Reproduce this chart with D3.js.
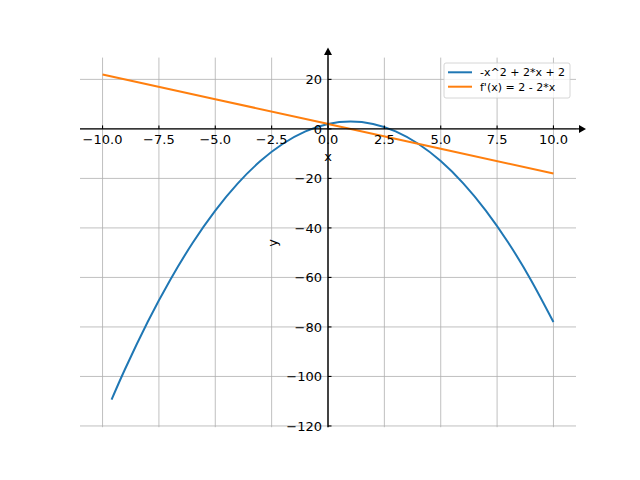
<!DOCTYPE html>
<html>
<head>
<meta charset="utf-8">
<script src="https://cdn.jsdelivr.net/npm/d3@7"></script>
<style>
  body { margin: 0; background: #fff; }
  text { font-family: "DejaVu Sans", sans-serif; }
</style>
</head>
<body>
<svg id="chart" width="640" height="480"></svg>
<script>
// values
const curveX = [-9.6, -9, -8, -7, -6, -5, -4, -3, -2, -1, 0, 1, 2, 3, 4, 5, 6, 7, 8, 9, 10];
const curveY = [-109.4, -97, -78, -61, -46, -33, -22, -13, -6, -1, 2, 3, 2, -1, -6, -13, -22, -33, -46, -61, -78];
const slopeX = [-10, -5, 0, 5, 10];
const slopeY = [22, 12, 2, -8, -18];
const xTicks = [-10, -7.5, -5, -2.5, 0, 2.5, 5, 7.5, 10];
const yTicks = [-120, -100, -80, -60, -40, -20, 0, 20];
const legendLabels = ['-x^2 + 2*x + 2', "f'(x) = 2 - 2*x"];
const colors = ['#1f77b4', '#ff7f0e'];

const svg = d3.select('#chart');
const boxLeft = 80, boxRight = 576, boxTop = 57.6, boxBottom = 427.2;

const x = d3.scaleLinear().domain([-11, 11]).range([boxLeft, boxRight]);
const y = d3.scaleLinear().domain([-120.5, 28.8]).range([boxBottom, boxTop]);
const x0 = x(0), y0 = y(0);
const minus = s => s.replace('-', '\u2212');

// grid
const grid = svg.append('g').attr('stroke', '#b0b0b0').attr('stroke-width', 0.8);
grid.selectAll('line.gx').data(xTicks).enter().append('line')
  .attr('x1', d => x(d)).attr('x2', d => x(d)).attr('y1', boxTop).attr('y2', boxBottom);
grid.selectAll('line.gy').data(yTicks).enter().append('line')
  .attr('x1', boxLeft).attr('x2', boxRight).attr('y1', d => y(d)).attr('y2', d => y(d));

// curves
const line = d3.line().x(d => x(d[0])).y(d => y(d[1])).curve(d3.curveNatural);
const series = [d3.zip(curveX, curveY), d3.zip(slopeX, slopeY)];
svg.selectAll('path.series').data(series).enter().append('path')
  .attr('class', 'series')
  .attr('d', line)
  .attr('fill', 'none')
  .attr('stroke', (d, i) => colors[i])
  .attr('stroke-width', 2);

// spines with arrow heads
const axes = svg.append('g');
axes.append('line').attr('x1', boxLeft).attr('x2', 579).attr('y1', y0).attr('y2', y0)
  .attr('stroke', '#000').attr('stroke-width', 1.4);
axes.append('line').attr('x1', x0).attr('x2', x0).attr('y1', boxBottom).attr('y2', 54)
  .attr('stroke', '#000').attr('stroke-width', 1.4);
axes.append('path').attr('d', `M${579},${y0 - 4}L${586},${y0}L${579},${y0 + 4}Z`).attr('fill', '#000');
axes.append('path').attr('d', `M${x0 - 4},${55}L${x0},${47.5}L${x0 + 4},${55}Z`).attr('fill', '#000');

// ticks
axes.selectAll('line.tx').data(xTicks).enter().append('line')
  .attr('x1', d => x(d)).attr('x2', d => x(d)).attr('y1', y0).attr('y2', y0 - 3.5)
  .attr('stroke', '#000').attr('stroke-width', 1.1);
axes.selectAll('line.ty').data(yTicks).enter().append('line')
  .attr('x1', x0).attr('x2', x0 + 3.5).attr('y1', d => y(d)).attr('y2', d => y(d))
  .attr('stroke', '#000').attr('stroke-width', 1.1);

// tick labels
axes.selectAll('text.lx').data(xTicks).enter().append('text')
  .attr('x', d => x(d)).attr('y', y0 + 15.5)
  .attr('text-anchor', 'middle').attr('font-size', 13).attr('fill', '#000')
  .text(d => minus(d3.format('.1f')(d)));
axes.selectAll('text.ly').data(yTicks).enter().append('text')
  .attr('x', x0 - 6).attr('y', d => y(d)).attr('dy', '0.36em')
  .attr('text-anchor', 'end').attr('font-size', 13).attr('fill', '#000')
  .text(d => minus(String(d)));

// axis labels
svg.append('text').attr('x', x0).attr('y', 161).attr('text-anchor', 'middle')
  .attr('font-size', 13).text('x');
svg.append('text').attr('transform', `translate(277,243) rotate(-90)`)
  .attr('text-anchor', 'middle').attr('font-size', 13).text('y');

// legend
const legend = svg.append('g');
legend.append('rect').attr('x', 444).attr('y', 63).attr('width', 126).attr('height', 35)
  .attr('rx', 2).attr('fill', '#fff').attr('fill-opacity', 0.8)
  .attr('stroke', '#cccccc').attr('stroke-width', 0.8);
const entry = legend.selectAll('g.entry').data(legendLabels).enter().append('g')
  .attr('transform', (d, i) => `translate(0,${72.3 + i * 14.4})`);
entry.append('line').attr('x1', 448).attr('x2', 472)
  .attr('stroke', (d, i) => colors[i]).attr('stroke-width', 2);
entry.append('text').attr('x', 480).attr('dy', '0.36em').attr('font-size', 11).text(d => d);
</script>
</body>
</html>
